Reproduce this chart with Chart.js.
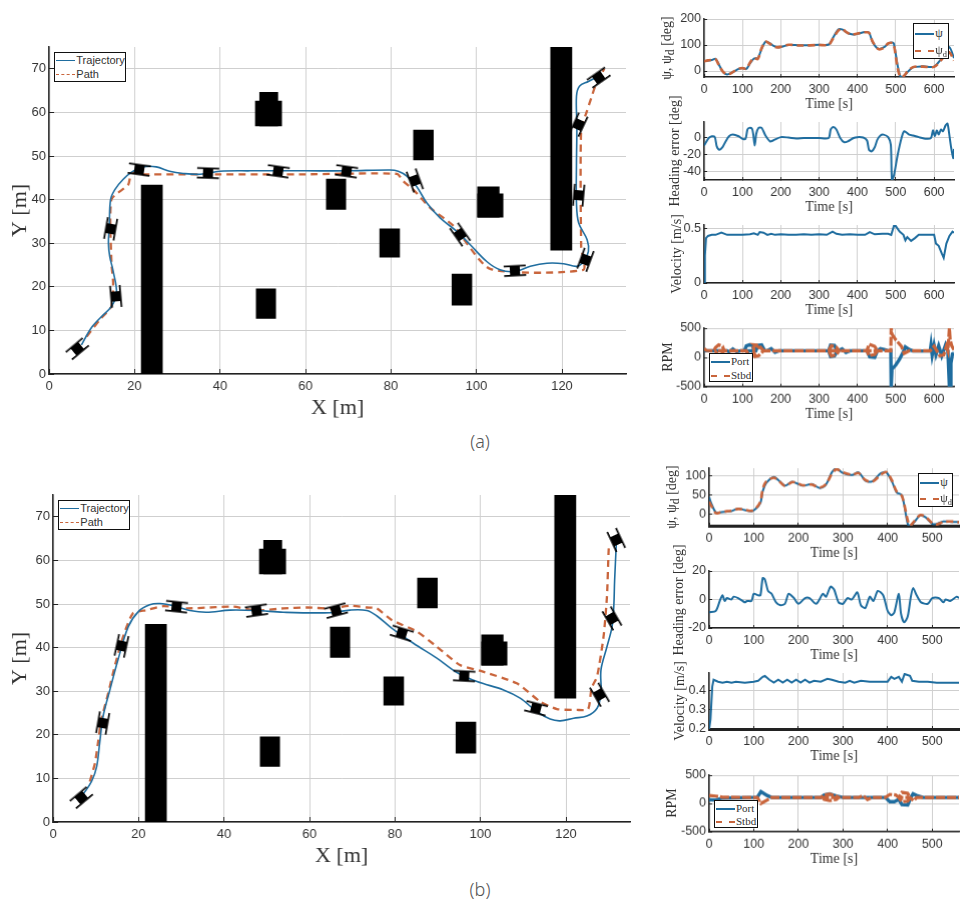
<!DOCTYPE html>
<html>
<head>
<meta charset="utf-8">
<title>Path following results</title>
<script src="https://cdn.jsdelivr.net/npm/chart.js@4"></script>
<style>
  html, body { margin: 0; padding: 0; background: #fff; }
  #page { position: relative; width: 966px; height: 906px; overflow: hidden; }
  #page canvas { position: absolute; }
  .lbl { position: absolute; white-space: nowrap; color: #333; font-family: "Liberation Serif", serif; }
  .ytitle { transform: translate(-50%, -50%) rotate(-90deg); font-size: 14px; }
  .legend { position: absolute; background: #fff; border: 1px solid #111; box-sizing: border-box; color: #333; }
  .legend .row { position: absolute; left: 1px; right: 0; white-space: nowrap; }
  .legend .swatch { position: absolute; left: 0; top: 50%; height: 0; }
  .legend .name { position: absolute; top: 50%; transform: translateY(-50%); }
  .legend sub { font-size: 70%; line-height: 0; }
</style>
</head>
<body>
<div id="page"></div>
<script>
const BLUE = '#1f6d9f';
const ORANGE = '#c9653c';

// ---- run (a) ----
const trajectoryA = [[7.6,6.7],[9.9,10.6],[12.3,13.2],[14.6,15.5],[15.8,18.6],[15,23.6],[14.2,27],[13.9,30],[14.1,33.9],[14.4,40],[15.4,42.3],[17.3,44.6],[19.3,46.3],[22,47.5],[25.1,47.5],[28.2,46.5],[31.4,46],[35.4,45.8],[40,46.5],[47,46.6],[60,46.6],[70,46.6],[79.8,46.8],[81.7,46.5],[83.7,45.4],[86,43],[88.4,39.2],[91.5,35.8],[95.4,32.7],[98.5,29.7],[102.4,25.8],[105.5,23.9],[109,23.5],[112.6,24.7],[116.5,25.4],[120.4,25.3],[123.5,24.7],[125.1,25.8],[126.2,28.1],[125.9,30.8],[123.9,34.7],[123.4,39.2],[123.4,48.4],[123.5,56.8],[123.4,63.7],[124.1,66],[126.2,67.1],[128.6,68.3]];
const pathA = [[8.8,8.6],[11.9,12.5],[14.6,15.5],[15,20.9],[14.6,25.5],[14.6,40],[18.5,43.4],[19.3,46.1],[22,45.8],[40,45.8],[60,45.8],[81.4,45.9],[82.9,44.2],[85.2,42.3],[89.2,38.1],[94.7,33.9],[103.2,24.1],[125,23.9],[124.5,29.3],[124.5,56.1],[125.9,60.4],[127,63.7],[127.8,66],[129.9,70]];
const boatsA = [[6.6,5.8,-40],[15.6,17.8,-95],[14.4,33.3,-80],[21.1,46.9,8],[37.2,46.1,2],[53.6,46.5,8],[69.6,46.5,8],[85.6,44.4,70],[96.2,32,55],[109,23.7,-3],[125.5,26.2,-70],[123.9,41,-85],[123.9,57.2,-65],[128.6,68,-35]];
const pillarA = [21.5, 0, 26.6, 43.4];

const timePsiA = [0,10,20,30,40,50,60,70,80,90,100,110,120,130,140,150,160,170,180,190,200,220,250,300,325,335,350,360,370,385,400,420,430,440,455,470,480,490,495,505,512,520,530,545,570,600,620,630,640,652];
const psiA = [38,40,42,47,20,-5,-13,-8,0,8,12,8,30,48,50,85,112,108,98,92,92,100,99,101,102,125,160,160,150,141,143,150,148,110,85,92,105,110,105,20,-20,-22,-5,14,18,17,48,62,92,50];
const psiDesA = [37,41,43,45,18,-4,-12,-9,1,9,11,9,33,50,46,88,113,106,96,91,93,101,98,100,101,122,155,162,151,140,144,149,147,112,84,90,106,108,100,10,-22,-20,-3,15,17,16,45,65,72,40];

const timeErrA = [0,5,12,20,28,33,40,48,55,65,75,90,100,108,113,118,125,128,132,136,142,150,160,172,180,200,220,240,260,300,325,330,337,345,355,365,375,390,400,415,425,430,437,445,452,460,468,480,487,490,495,505,515,522,535,545,560,580,592,597,602,607,612,618,623,630,635,640,644,650,652];
const errA = [-9,-5,0,2,1,-10,-14,-11,-5,2,4,2,-1,-1,10,12,11,5,-9,5,12,12,3,-4,-3,1,0.5,-0.5,0,0,0,10,13,10,0,-5,-4,0,1,0.5,-3,-14,-16,-11,-2,3,4,1,-8,-50,-45,-20,0,8,4,3,1,-1,0,9,2,9,4,10,8,15,17,3,-10,-24,-13];

const timeVelA = [0,2,5,10,20,30,45,60,80,100,120,130,140,145,155,165,175,185,200,220,240,260,280,300,320,335,345,360,380,400,420,432,445,465,480,488,495,500,510,520,525,530,540,550,560,590,600,605,612,620,625,632,640,648,652];
const velA = [0,0.25,0.41,0.43,0.44,0.44,0.46,0.44,0.44,0.44,0.445,0.455,0.44,0.465,0.46,0.44,0.45,0.44,0.445,0.44,0.44,0.445,0.44,0.445,0.44,0.47,0.45,0.44,0.445,0.44,0.44,0.465,0.445,0.45,0.45,0.44,0.52,0.52,0.47,0.44,0.39,0.42,0.385,0.41,0.44,0.44,0.44,0.36,0.34,0.27,0.23,0.36,0.43,0.47,0.46];

const portA = [[0,115],[60,115],[65,95],[75,145],[85,95],[95,115],[105,115],[110,195],[118,215],[126,205],[131,115],[126,30],[118,20],[110,115],[135,115],[140,205],[150,215],[158,115],[165,115],[175,150],[185,90],[195,115],[325,115],[330,210],[340,205],[348,115],[340,25],[330,15],[325,115],[350,115],[360,145],[370,85],[380,115],[425,115],[432,10],[445,0],[452,115],[460,150],[470,135],[480,115],[487,115],[488,-500],[489,-500],[490,-200],[500,-130],[510,-30],[520,100],[525,180],[535,135],[545,110],[590,115],[592,210],[595,40],[600,210],[605,50],[612,200],[620,30],[630,215],[636,115],[640,-500],[642,-500],[644,-100],[648,60],[652,70]];
const stbdA = [[0,150],[5,120],[25,115],[30,170],[38,215],[48,190],[52,115],[45,45],[35,20],[30,115],[52,115],[110,115],[120,20],[128,40],[131,115],[128,200],[133,15],[142,30],[155,115],[142,210],[133,215],[155,115],[325,115],[332,200],[345,175],[352,115],[345,50],[332,25],[325,115],[425,115],[430,225],[445,190],[452,115],[445,50],[430,30],[425,115],[487,115],[488,500],[490,400],[500,300],[515,190],[522,70],[535,115],[590,115],[600,190],[615,30],[625,40],[632,190],[636,115],[640,500],[642,300],[646,200],[652,130]];

// ---- run (b) ----
const trajectoryB = [[7,6.3],[9,9.3],[10.2,12.7],[10.9,18.1],[11.7,24.2],[13.3,30.3],[15.2,37.2],[17.6,44.8],[19.9,48.2],[22.6,49.8],[25,50.1],[28.9,49.4],[32,48.5],[35.9,48.1],[41.4,48.6],[47.6,48.5],[53.9,48.1],[64.8,48],[69.5,48.6],[73.4,48.5],[75.7,47.3],[79.3,44.4],[84.3,41],[89.8,37.6],[94.5,34.3],[99.2,32.2],[105.4,30.3],[109.3,28.4],[113.2,25.3],[116.3,23.6],[118.7,23.2],[121.8,23.8],[124.9,24.3],[127.3,26.1],[128.2,29.5],[128.2,34.9],[129.6,40.2],[130.8,44.8],[131.2,49.4],[131.4,55.5],[131.8,63.9]];
const pathB = [[8.6,9.3],[9.8,13.5],[10.5,18.1],[11.3,23.4],[12.9,29.5],[14.4,35.6],[16.4,42.5],[18.7,47.9],[21.9,48.6],[25.8,49.5],[31.2,49],[36.7,49.2],[42.2,49.4],[47.6,48.5],[53.9,49],[59.3,49.2],[64.8,49],[69.5,49.6],[73.4,49.2],[75.7,49],[79.3,46.3],[85.1,43.7],[89.8,40.2],[95.2,36],[99.9,34.7],[108.5,31.8],[114,27.6],[117.9,25.9],[122.6,25.7],[125.2,25.9],[126,30.7],[127.3,33.4],[128.8,42.5],[129.6,51.7],[130,62.4],[130.2,63.9]];
const boatsB = [[6.6,5.6,-40],[11.6,22.7,-80],[16,40.4,-78],[28.9,49.4,6],[47.6,48.5,-8],[66.2,48.5,-15],[81.6,43.3,17],[96.2,33.5,3],[113,26.1,14],[127.9,29.2,60],[130.8,46.7,60],[131.8,64.7,65]];
const pillarB = [21.5, 0, 26.6, 45.4];

const timePsiB = [0,5,15,25,40,50,65,80,95,105,115,120,128,145,155,170,185,195,210,230,248,262,275,285,300,320,335,350,365,385,397,410,420,432,445,450,460,473,485,500,510,525,545,560];
const psiB = [45,28,5,5,7,8,15,11,8,15,30,60,82,98,90,75,85,82,75,79,69,78,110,120,108,103,110,88,86,108,110,85,58,50,-25,-30,-20,-3,-8,-25,-25,-19,-20,-20];
const psiDesB = [33,22,3,5,8,9,14,12,9,16,33,66,86,96,89,74,84,83,76,78,70,79,106,118,110,104,108,90,85,104,111,88,60,48,-15,-30,-18,-2,-7,-23,-27,-20,-19,-21];

const timeErrB = [0,15,25,30,35,40,50,55,65,75,80,85,95,100,110,115,120,125,132,140,150,160,170,178,190,200,215,225,240,255,262,272,280,290,300,310,320,332,340,350,360,368,378,390,400,408,415,425,430,437,445,452,457,465,475,490,500,515,525,530,540,555,560];
const errB = [-9,-8,0,3,-1,1,0,2,1,-1,-2,-1,-1,4,3,3,15,14,6,4,-2,-4,-3,4,1,-3,1,1,-3,4,2,9,7,-2,-3,1,0,5,-4,-6,2,-1,6,3,-8,-11,-9,4,-10,-16,-12,2,8,3,-2,-3,1,1,-2,0,-1,2,1];

const timeVelB = [0,3,7,10,20,30,40,50,60,80,100,110,120,125,135,145,155,165,175,185,195,205,215,225,235,250,265,275,290,305,315,325,340,360,380,400,408,415,425,432,438,450,455,470,490,510,530,560];
const velB = [0.2,0.25,0.42,0.455,0.445,0.44,0.445,0.44,0.445,0.44,0.445,0.45,0.47,0.475,0.455,0.44,0.455,0.44,0.455,0.44,0.455,0.44,0.455,0.44,0.45,0.445,0.46,0.455,0.445,0.44,0.45,0.44,0.45,0.445,0.445,0.445,0.47,0.46,0.47,0.445,0.485,0.475,0.45,0.445,0.445,0.44,0.44,0.44];

const portB = [[0,65],[15,60],[30,95],[90,105],[108,110],[116,210],[130,140],[140,105],[250,105],[258,150],[270,170],[285,130],[300,105],[395,105],[405,30],[415,30],[425,70],[432,-20],[445,-25],[452,105],[457,170],[465,140],[480,105],[560,105]];
const stbdB = [[0,140],[15,130],[30,110],[108,105],[116,0],[130,60],[140,105],[250,105],[258,150],[270,165],[285,130],[290,105],[285,70],[270,50],[258,70],[250,105],[335,105],[345,140],[355,70],[365,105],[395,105],[405,160],[418,150],[425,105],[432,195],[445,180],[450,105],[445,40],[432,30],[425,105],[450,105],[458,50],[465,105],[560,105]];

// obstacles common to both runs: xmin, ymin, xmax, ymax
const obstacles = [[49.2,56.8,53.6,64.7],[48.2,56.8,54.5,62.7],[48.4,12.7,53.1,19.6],[64.8,37.7,69.5,44.8],[77.3,26.7,82.1,33.4],[85.2,49,90,56],[100.2,35.9,105.4,43],[100.2,35.9,106.3,41.4],[94.2,15.7,99,23],[117.3,28.3,122.4,75]];

const trackXTicks = [0,20,40,60,80,100,120];
const trackYTicks = [0,10,20,30,40,50,60,70];
const timeTicksA = [0,100,200,300,400,500,600];
const timeTicksB = [0,100,200,300,400,500];

const page = document.getElementById('page');

function zip(xs, ys) { return xs.map((x, i) => ({ x, y: ys[i] })); }
function pts(pairs) { return pairs.map(p => ({ x: p[0], y: p[1] })); }
function rectPts(r) {
  return [{x:r[0],y:r[1]},{x:r[2],y:r[1]},{x:r[2],y:r[3]},{x:r[0],y:r[3]},{x:r[0],y:r[1]}];
}

// little catamaran glyph used as point style
function boatGlyph() {
  const c = document.createElement('canvas');
  c.width = 26; c.height = 26;
  const g = c.getContext('2d');
  g.fillStyle = '#000';
  g.fillRect(2, 7.5, 22, 1.7);
  g.fillRect(2, 17, 22, 1.7);
  g.fillRect(8, 9, 10, 8);
  return c;
}
const boatStyle = boatGlyph();

function line(data, color, width, dash, order, tension) {
  return { data, borderColor: color, borderWidth: width, borderDash: dash || [], pointRadius: 0, showLine: true, fill: false, order: order || 0, tension: tension || 0 };
}
function block(r) {
  return { data: rectPts(r), borderColor: '#000', borderWidth: 0, backgroundColor: '#000', pointRadius: 0, showLine: true, fill: 'shape', order: 9 };
}

function addChart(box, cfg) {
  const cv = document.createElement('canvas');
  const w = box.w + box.ml + box.mr, h = box.h + box.mt + box.mb;
  cv.width = w; cv.height = h;
  cv.style.left = (box.x - box.ml) + 'px';
  cv.style.top = (box.y - box.mt) + 'px';
  cv.style.width = w + 'px';
  cv.style.height = h + 'px';
  page.appendChild(cv);
  const tickFont = { family: '"Liberation Sans"', size: cfg.tickSize };
  const grid = { color: '#cfcfcf', lineWidth: 1, tickColor: '#222', tickLength: -cfg.tickLen };
  new Chart(cv, {
    type: 'scatter',
    data: { datasets: cfg.datasets },
    options: {
      responsive: false,
      animation: false,
      devicePixelRatio: 1,
      layout: { padding: { top: box.mt, right: box.mr, left: 0, bottom: 0 } },
      plugins: { legend: { display: false }, tooltip: { enabled: false } },
      scales: {
        x: {
          type: 'linear', min: cfg.xMin, max: cfg.xMax,
          grid, border: { color: '#222', width: cfg.xAxisWidth || 1.5 },
          ticks: { color: '#333', font: tickFont, padding: cfg.tickPad + cfg.tickLen, autoSkip: false, maxRotation: 0, callback: v => String(v) },
          title: { display: true, text: cfg.xTitle, color: '#333', padding: 0, font: { family: '"Liberation Serif"', size: cfg.xTitleSize } },
          afterBuildTicks: s => { s.ticks = cfg.xTicks.map(v => ({ value: v })); },
          afterFit: s => { s.height = box.mb; }
        },
        y: {
          type: 'linear', min: cfg.yMin, max: cfg.yMax,
          grid, border: { color: '#222', width: 1.5 },
          ticks: { color: '#333', font: tickFont, padding: 3 + cfg.tickLen, autoSkip: false, callback: v => String(v) },
          title: { display: !!cfg.yTitle, text: cfg.yTitle || '', color: '#333', padding: 0, font: { family: '"Liberation Serif"', size: 22 } },
          afterBuildTicks: s => { s.ticks = cfg.yTicks.map(v => ({ value: v })); },
          afterFit: s => { s.width = box.ml; }
        }
      }
    }
  });
}

function addText(html, x, y, cls, css) {
  const d = document.createElement('div');
  d.className = 'lbl ' + (cls || '');
  d.innerHTML = html;
  d.style.left = x + 'px';
  d.style.top = y + 'px';
  if (css) Object.assign(d.style, css);
  page.appendChild(d);
}

// entries: [label html, color, dash?]
function addLegend(x, y, w, h, entries, font, size, swatchW, lw) {
  const d = document.createElement('div');
  d.className = 'legend';
  Object.assign(d.style, { left: x + 'px', top: y + 'px', width: w + 'px', height: h + 'px', fontFamily: font, fontSize: size + 'px' });
  entries.forEach((e, i) => {
    const row = document.createElement('div');
    row.className = 'row';
    row.style.top = (i * (h - 2) / entries.length) + 'px';
    row.style.height = ((h - 2) / entries.length) + 'px';
    const sw = document.createElement('span');
    sw.className = 'swatch';
    sw.style.width = swatchW + 'px';
    sw.style.borderTop = lw + 'px ' + (e[2] ? 'dashed ' : 'solid ') + e[1];
    const nm = document.createElement('span');
    nm.className = 'name';
    nm.style.left = (swatchW + 1) + 'px';
    nm.innerHTML = e[0];
    row.appendChild(sw); row.appendChild(nm);
    d.appendChild(row);
  });
  page.appendChild(d);
}

function trackChart(box, traj, path, boats, pillar) {
  addChart(box, {
    xMin: 0, xMax: 135, yMin: 0, yMax: 75,
    xTicks: trackXTicks, yTicks: trackYTicks,
    xTitle: 'X [m]', xTitleSize: 22, yTitle: 'Y [m]',
    tickSize: 13, tickLen: 5, tickPad: 5,
    datasets: [
      { data: boats.map(b => ({ x: b[0], y: b[1] })), pointStyle: boatStyle, pointRadius: 10, rotation: boats.map(b => b[2]), showLine: false, order: 0 },
      line(pts(traj), BLUE, 1.6, null, 1, 0.35),
      line(pts(path), ORANGE, 2.3, [7, 5], 2, 0.2),
      block(pillar)
    ].concat(obstacles.map(block))
  });
}

function smallChart(box, datasets, o) {
  addChart(box, Object.assign({
    xMin: 0, xTitle: 'Time [s]', xTitleSize: 14,
    tickSize: 12.5, tickLen: 3, tickPad: 5
  }, o, { datasets }));
}

const trackA = { x: 49.3, y: 47.3, w: 577.4, h: 327, ml: 42, mr: 10, mt: 18, mb: 47 };
const trackB = { x: 53.3, y: 494.7, w: 577.4, h: 327.6, ml: 46, mr: 10, mt: 18, mb: 47 };
trackChart(trackA, trajectoryA, pathA, boatsA, pillarA);
trackChart(trackB, trajectoryB, pathB, boatsB, pillarB);

const sA = { x: 704.3, w: 249.7, ml: 40, mr: 6, mt: 18, mb: 36 };
const sB = { x: 709.3, w: 249.7, ml: 40, mr: 6, mt: 18, mb: 36 };

smallChart(Object.assign({ y: 19.3, h: 58 }, sA),
  [line(zip(timePsiA, psiDesA), ORANGE, 2.6, [7, 4], 0, 0.3), line(zip(timePsiA, psiA), BLUE, 2, null, 1, 0.3)],
  { xMax: 652, yMin: -23, yMax: 200, xTicks: timeTicksA, yTicks: [0, 100, 200] });
smallChart(Object.assign({ y: 122, h: 58.3 }, sA),
  [line(zip(timeErrA, errA), BLUE, 2, null, 0, 0.25)],
  { xMax: 652, yMin: -50, yMax: 19, xTicks: timeTicksA, yTicks: [-40, -20, 0] });
smallChart(Object.assign({ y: 225.3, h: 58 }, sA),
  [line(zip(timeVelA, velA), BLUE, 2)],
  { xMax: 652, yMin: 0, yMax: 0.53, xTicks: timeTicksA, yTicks: [0, 0.5] });
smallChart(Object.assign({ y: 328.3, h: 58.4 }, sA),
  [line(pts(stbdA), ORANGE, 3.2, [9, 2], 0), line(pts(portA), BLUE, 3.4, null, 1)],
  { xMax: 652, yMin: -500, yMax: 500, xTicks: timeTicksA, yTicks: [-500, 0, 500] });

smallChart(Object.assign({ y: 468.3, h: 57.4 }, sB),
  [line(zip(timePsiB, psiDesB), ORANGE, 2.6, [7, 4], 0, 0.3), line(zip(timePsiB, psiB), BLUE, 2, null, 1, 0.3)],
  { xMax: 560, yMin: -30, yMax: 121, xTicks: timeTicksB, yTicks: [0, 50, 100], xAxisWidth: 3 });
smallChart(Object.assign({ y: 571.3, h: 57 }, sB),
  [line(zip(timeErrB, errB), BLUE, 2, null, 0, 0.25)],
  { xMax: 560, yMin: -20, yMax: 20, xTicks: timeTicksB, yTicks: [-20, 0, 20] });
smallChart(Object.assign({ y: 672.5, h: 56.8 }, sB),
  [line(zip(timeVelB, velB), BLUE, 2)],
  { xMax: 560, yMin: 0.2, yMax: 0.49, xTicks: timeTicksB, yTicks: [0.2, 0.3, 0.4], xAxisWidth: 3 });
smallChart(Object.assign({ y: 775.3, h: 56.7 }, sB),
  [line(pts(stbdB), ORANGE, 3.2, [9, 2], 0), line(pts(portB), BLUE, 3.4, null, 1)],
  { xMax: 560, yMin: -500, yMax: 500, xTicks: timeTicksB, yTicks: [-500, 0, 500] });

// y titles of the small plots (html, they need a subscript and overflow the axis)
const psiTitle = 'ψ, ψ<sub>d</sub> [deg]';
addText(psiTitle, 668, 48, 'ytitle');
addText('Heading error [deg]', 675, 151, 'ytitle');
addText('Velocity [m/s]', 677, 254, 'ytitle');
addText('RPM', 668, 357, 'ytitle');
addText(psiTitle, 673, 497, 'ytitle');
addText('Heading error [deg]', 679, 600, 'ytitle');
addText('Velocity [m/s]', 680, 701, 'ytitle');
addText('RPM', 672, 803, 'ytitle');

// legends
const sansFont = '"Liberation Sans"', serifFont = '"Liberation Serif"';
addLegend(54.3, 52.3, 72, 30, [['Trajectory', BLUE], ['Path', ORANGE, true]], sansFont, 11, 19, 1.5);
addLegend(58.3, 500, 72, 30, [['Trajectory', BLUE], ['Path', ORANGE, true]], sansFont, 11, 19, 1.5);
addLegend(913.3, 23.3, 36, 36, [['ψ', BLUE], ['ψ<sub>d</sub>', ORANGE, true]], serifFont, 12, 19, 2);
addLegend(918.3, 473.3, 35, 34, [['ψ', BLUE], ['ψ<sub>d</sub>', ORANGE, true]], serifFont, 12, 19, 2);
addLegend(709, 353.3, 44, 29, [['Port', BLUE], ['Stbd', ORANGE, true]], serifFont, 11, 19, 2);
addLegend(714, 800, 44, 28, [['Port', BLUE], ['Stbd', ORANGE, true]], serifFont, 11, 19, 2);

// sub-figure captions
const capCss = { fontFamily: '"Noto Sans"', fontSize: '18px', fontWeight: '300', color: '#555', transform: 'translate(-50%,-50%)' };
addText('(a)', 480, 441, '', capCss);
addText('(b)', 480, 889, '', capCss);
</script>
</body>
</html>
